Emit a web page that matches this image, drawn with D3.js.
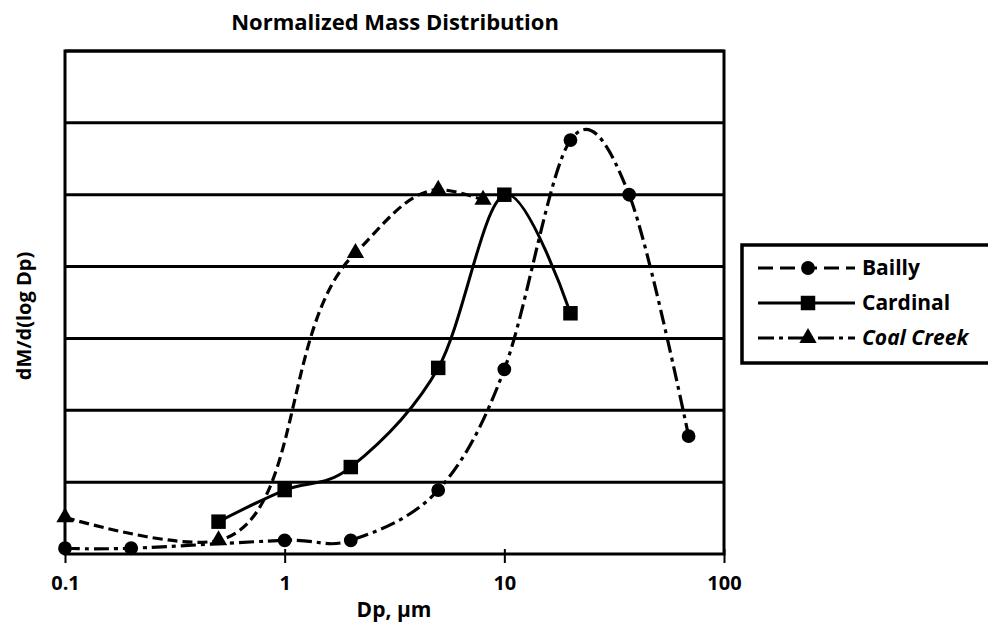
<!DOCTYPE html>
<html>
<head>
<meta charset="utf-8">
<script src="https://cdn.jsdelivr.net/npm/d3@7"></script>
<style>
  html, body { margin: 0; padding: 0; background: #fff; }
  svg text { font-family: "Open Sans", "DejaVu Sans", sans-serif; font-weight: 700; fill: #000; }
</style>
</head>
<body>
<svg id="chart" width="988" height="630"></svg>
<script>
// ---- data ----
const xTicks = [0.1, 1, 10, 100];
const xTickLabels = ["0.1", "1", "10", "100"];
const yGrid = [1, 2, 3, 4, 5, 6, 7];

const baillyX = [0.1, 0.2, 1, 2, 5, 10, 20, 37, 69];
const baillyY = [0.08, 0.08, 0.19, 0.19, 0.89, 2.57, 5.76, 5.0, 1.64];

const cardinalX = [0.5, 1, 2, 5, 10, 20];
const cardinalY = [0.45, 0.89, 1.21, 2.59, 5.0, 3.35];

const coalX = [0.1, 0.5, 2.1, 5, 8];
const coalY = [0.51, 0.19, 4.19, 5.07, 4.93];

const seriesNames = ["Bailly", "Cardinal", "Coal Creek"];

// ---- layout ----
const svg = d3.select("#chart");
const L = 65, R = 724, T = 51, B = 554;
const x = d3.scaleLog().domain([0.1, 100]).range([L, R]);
const y = d3.scaleLinear().domain([0, 7]).range([B, T]);

// gridlines
svg.append("g").selectAll("line").data(yGrid).join("line")
  .attr("x1", L).attr("x2", R)
  .attr("y1", d => y(d)).attr("y2", d => y(d))
  .attr("stroke", "#000").attr("stroke-width", 3);

// frame
svg.append("rect").attr("x", L).attr("y", T).attr("width", R - L).attr("height", B - T)
  .attr("fill", "none").attr("stroke", "#000").attr("stroke-width", 3);

// x axis
const xAxis = d3.axisBottom(x).tickValues(xTicks)
  .tickFormat((d, i) => xTickLabels[i]).tickSize(9).tickPadding(13);
const gx = svg.append("g").attr("transform", `translate(0,${B})`).call(xAxis);
gx.select(".domain").remove();
gx.selectAll(".tick line").attr("y1", -5).attr("stroke", "#000").attr("stroke-width", 2);
gx.selectAll(".tick text").attr("font-size", 20)
  .style("font-family", "'Open Sans', sans-serif").style("font-weight", 700);

// titles
svg.append("text").attr("x", 395).attr("y", 30).attr("text-anchor", "middle")
  .attr("font-size", 22).text("Normalized Mass Distribution");
svg.append("text").attr("x", 394).attr("y", 617).attr("text-anchor", "middle")
  .attr("font-size", 21).text("Dp, μm");
svg.append("text").attr("transform", "translate(31,316) rotate(-90)")
  .attr("text-anchor", "middle").attr("font-size", 20).text("dM/d(log Dp)");

// ---- series ----
const zip = (a, b) => a.map((v, i) => [v, b[i]]);
const mkLine = c => d3.line().x(d => x(d[0])).y(d => y(d[1])).curve(c);
const smooth = mkLine(d3.curveCardinal.tension(0));
const smoothCoal = mkLine(d3.curveCatmullRom.alpha(1));

const bailly = zip(baillyX, baillyY);
const cardinal = zip(cardinalX, cardinalY);
const coal = zip(coalX, coalY);

svg.append("path").datum(coal).attr("d", smoothCoal).attr("fill", "none")
  .attr("stroke", "#000").attr("stroke-width", 3.2).attr("stroke-dasharray", "10,5");
svg.append("path").datum(cardinal).attr("d", smooth).attr("fill", "none")
  .attr("stroke", "#000").attr("stroke-width", 3);
svg.append("path").datum(bailly).attr("d", smooth).attr("fill", "none")
  .attr("stroke", "#000").attr("stroke-width", 3.2).attr("stroke-dasharray", "15,5,4,5");

const tri = d3.symbol().type(d3.symbolTriangle).size(130);
const sq = d3.symbol().type(d3.symbolSquare).size(210);
const circ = d3.symbol().type(d3.symbolCircle).size(150);

svg.append("g").selectAll("path").data(coal).join("path")
  .attr("transform", d => `translate(${x(d[0])},${y(d[1])})`).attr("d", tri).attr("fill", "#000");
svg.append("g").selectAll("path").data(cardinal).join("path")
  .attr("transform", d => `translate(${x(d[0])},${y(d[1])})`).attr("d", sq).attr("fill", "#000");
svg.append("g").selectAll("path").data(bailly).join("path")
  .attr("transform", d => `translate(${x(d[0])},${y(d[1])})`).attr("d", circ).attr("fill", "#000");

// ---- legend ----
const lg = svg.append("g");
lg.append("rect").attr("x", 742).attr("y", 245).attr("width", 270).attr("height", 118)
  .attr("fill", "#fff").attr("stroke", "#000").attr("stroke-width", 3.5);
const legRows = [
  { name: seriesNames[0], y: 268, dash: "15,7", sym: circ, italic: false },
  { name: seriesNames[1], y: 303, dash: null, sym: sq, italic: false },
  { name: seriesNames[2], y: 338, dash: "16,5,4,5", sym: tri, italic: true }
];
legRows.forEach(r => {
  lg.append("line").attr("x1", 758).attr("x2", 855).attr("y1", r.y).attr("y2", r.y)
    .attr("stroke", "#000").attr("stroke-width", 3.2)
    .attr("stroke-dasharray", r.dash);
  lg.append("path").attr("transform", `translate(808,${r.y})`).attr("d", r.sym).attr("fill", "#000");
  lg.append("text").attr("x", 862).attr("y", r.y + 7).attr("font-size", 21)
    .style("font-style", r.italic ? "italic" : "normal").text(r.name);
});
</script>
</body>
</html>
